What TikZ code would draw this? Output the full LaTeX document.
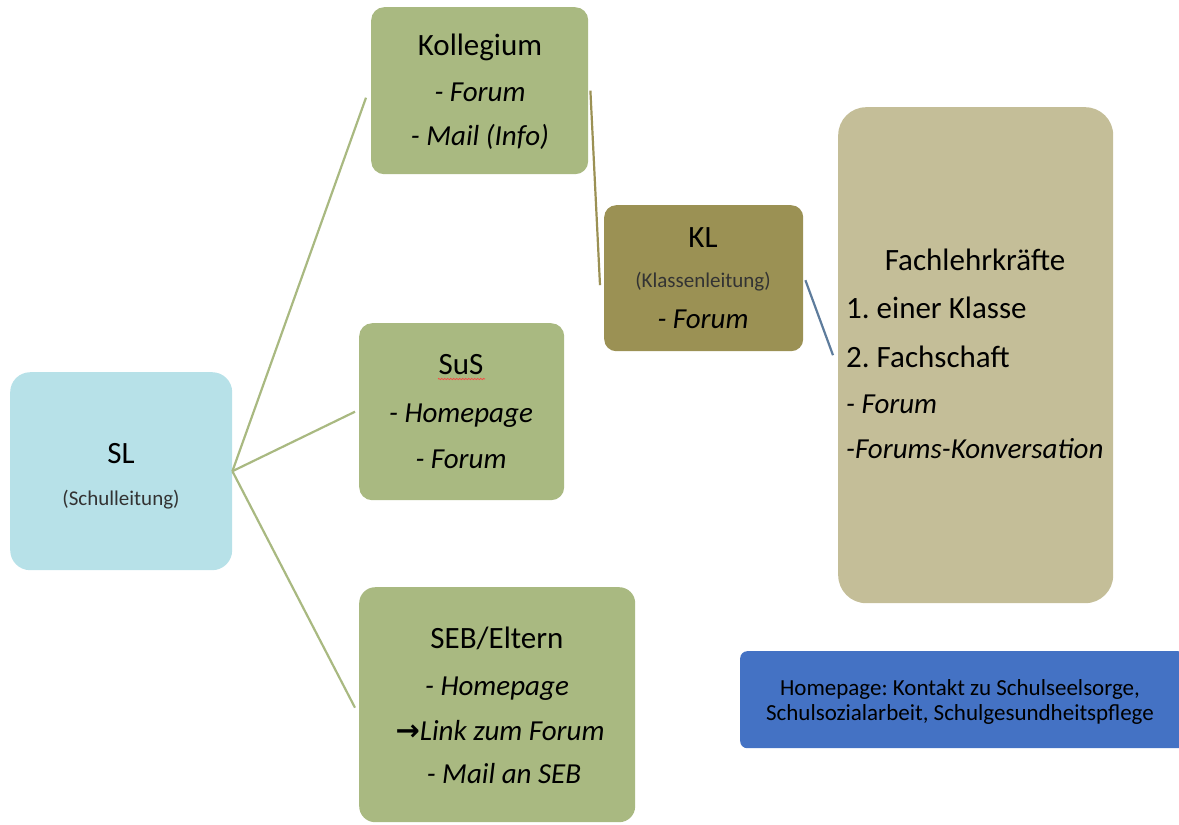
\documentclass[tikz,border=0pt]{standalone}
\usepackage{fontspec}
\setmainfont{Carlito}
\newfontfamily\djv{DejaVu Sans}
\usetikzlibrary{decorations.pathmorphing}
\definecolor{sagegreen}{HTML}{A9B981}
\definecolor{paleblue}{HTML}{B7E1E8}
\definecolor{olivebox}{HTML}{9B9154}
\definecolor{khaki}{HTML}{C4BE98}
\definecolor{brightblue}{HTML}{4472C4}
\definecolor{slateline}{HTML}{5E7C9C}
\tikzset{
  boxshape/.style={draw=none, rectangle, inner sep=0pt, anchor=north west},
  bigtxt/.style={inner sep=0pt, anchor=base, font=\fontsize{31}{36}\selectfont},
  bigital/.style={bigtxt, font=\fontsize{29}{34}\selectfont\itshape},
  smalltxt/.style={inner sep=0pt, anchor=base, text=black!80, font=\fontsize{21}{25}\selectfont},
  bluetxt/.style={inner sep=0pt, anchor=base, font=\fontsize{23}{27}\selectfont},
  greenlink/.style={draw=sagegreen, line width=2.2pt},
  olivelink/.style={draw=olivebox, line width=2.2pt},
  slatelink/.style={draw=slateline, line width=2.2pt},
}
\frenchspacing
\begin{document}
\begin{tikzpicture}[x=1pt,y=-1pt]
\useasboundingbox (0,0) rectangle (1179,825);
% boxes
\node[boxshape, fill=paleblue, rounded corners=20pt, minimum width=222pt, minimum height=198pt] (SL) at (10,372) {};
\node[boxshape, fill=sagegreen, rounded corners=13pt, minimum width=217pt, minimum height=167pt] (Koll) at (371,7) {};
\node[boxshape, fill=sagegreen, rounded corners=13pt, minimum width=205pt, minimum height=177pt] (SuS) at (359,323) {};
\node[boxshape, fill=sagegreen, rounded corners=16pt, minimum width=276pt, minimum height=235pt] (SEB) at (359,587) {};
\node[boxshape, fill=olivebox, rounded corners=12pt, minimum width=199pt, minimum height=146pt] (KL) at (604,205) {};
\node[boxshape, fill=khaki, rounded corners=28pt, minimum width=275pt, minimum height=496pt] (FL) at (838,107) {};
\node[boxshape, fill=brightblue, rounded corners=7pt, minimum width=445pt, minimum height=97pt] (HP) at (740,651) {};
% connectors
\coordinate (kollin) at ([xshift=-5pt,yshift=-7pt]Koll.west);
\coordinate (susin) at ([xshift=-4pt]SuS.west);
\coordinate (sebin) at ([xshift=-4pt,yshift=-3pt]SEB.west);
\draw[greenlink] (SL.east) -- (kollin);
\draw[greenlink] (SL.east) -- (susin);
\draw[greenlink] (SL.east) -- (sebin);
\draw[olivelink] ([xshift=2pt]Koll.east) -- ([xshift=-4pt,yshift=-7pt]KL.west);
\draw[slatelink] ([xshift=2pt,yshift=-2pt]KL.east) -- ([xshift=-5pt]FL.west);
% SL texts
\node[bigtxt] (slt1) at (121,463) {SL};
\node[smalltxt] (slt2) at (121,505) {(Schulleitung)};
% Kollegium texts
\node[bigtxt] (kt1) at (480,55) {Kollegium};
\node[bigital] (kt2) at (480,101) {- Forum};
\node[bigital] (kt3) at (480,145) {- Mail (Info)};
% SuS texts
\node[bigtxt] (st1) at (461,374) {SuS};
\draw[red!75, line width=0.7pt, decorate, decoration={zigzag, segment length=3pt, amplitude=0.7pt}] (438,379) -- (485,379);
\node[bigital] (st2) at (461,422) {- Homepage};
\node[bigital] (st3) at (461,468) {- Forum};
% SEB texts
\node[bigtxt] (et1) at (497,648) {SEB/Eltern};
\node[bigital] (et2) at (497,695) {- Homepage};
\node[bigital] (et3) at (500,740) {{\djv\upshape\bfseries →}Link zum Forum};
\node[bigital] (et4) at (504,783) {- Mail an SEB};
% KL texts
\node[bigtxt] (klt1) at (703,247) {KL};
\node[smalltxt] (klt2) at (703,287) {(Klassenleitung)};
\node[bigital] (klt3) at (703,328) {- Forum};
% Fachlehrkraefte texts
\node[bigtxt] (ft1) at (975,270) {Fachlehrkräfte};
\node[bigtxt, anchor=base west] (ft2) at (846,318) {1. einer Klasse};
\node[bigtxt, anchor=base west] (ft3) at (846,367) {2. Fachschaft};
\node[bigital, anchor=base west] (ft4) at (846,413) {- Forum};
\node[bigital, anchor=base west] (ft5) at (846,458) {-Forums-Konversation};
% blue box texts
\node[bluetxt] (ht1) at (960,695) {Homepage: Kontakt zu Schulseelsorge,};
\node[bluetxt] (ht2) at (960,720) {Schulsozialarbeit, Schulgesundheitspflege};
\end{tikzpicture}
\end{document}
